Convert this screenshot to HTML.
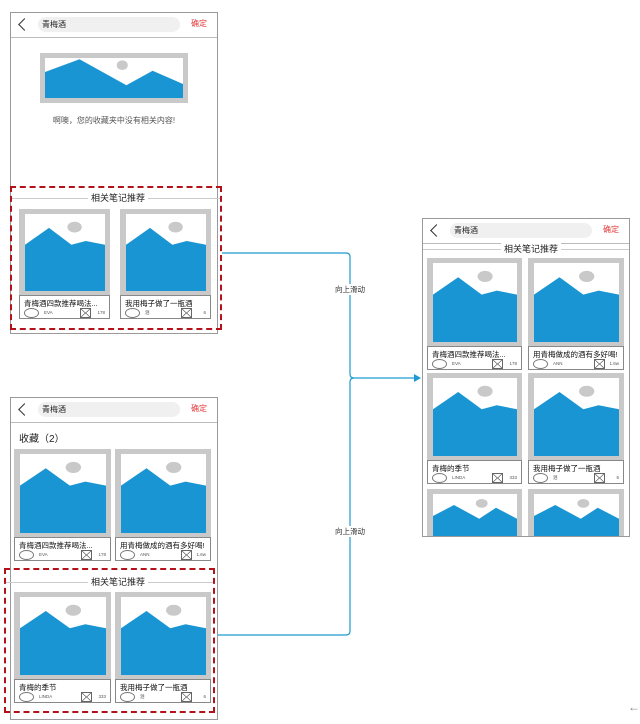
<!DOCTYPE html>
<html><head><meta charset="utf-8"><style>
*{box-sizing:border-box;margin:0;padding:0}
body{width:640px;height:724px;background:#fff;position:relative;overflow:hidden;font-family:"Liberation Sans","Noto Sans CJK SC",sans-serif;color:#222}
.a{position:absolute}
.phone{position:absolute;border:1px solid #9a9a9a;background:#fff}
.hd{position:absolute;left:0;right:0;top:0;height:25px;border-bottom:1px solid #bbb}
.back{position:absolute;left:9px;top:7px;width:9px;height:9px;border-left:1.3px solid #333;border-bottom:1.3px solid #333;transform:rotate(45deg)}
.pill{position:absolute;left:27px;top:4px;width:142px;height:15px;border-radius:8px;background:#f0f0f0;font-size:8px;line-height:15px;padding-left:4px;color:#222}
.ok{position:absolute;right:10px;top:5px;font-size:8px;color:#e23b3b}
.card{position:absolute}
.img{position:absolute;left:0;top:0;right:0;bottom:23px;background:#c9c9c9}
.in{position:absolute;left:6px;top:5px;right:5px;bottom:5px;background:#fff}
.in svg{width:100%;height:100%;display:block}
.ft{position:absolute;left:0;right:0;bottom:0;height:24px;border:1px solid #888;background:#fff}
.t{position:absolute;left:4px;top:2px;font-size:7.5px;white-space:nowrap;color:#111}
.c{position:absolute;left:4px;top:12px;width:15px;height:10px;border:1px solid #777;border-radius:50%}
.n{position:absolute;left:24px;top:14px;font-size:4.5px;color:#555}
.x{position:absolute;right:18px;top:12px;width:11px;height:10px;border:1px solid #666;background:linear-gradient(to top right,transparent 46%,#666 48%,#666 52%,transparent 54%),linear-gradient(to top left,transparent 46%,#666 48%,#666 52%,transparent 54%)}
.m{position:absolute;right:4px;top:14px;font-size:4.5px;color:#555}
.dash{position:absolute;border:2px dashed #b3121b}
.sec{position:absolute;left:0;right:0;height:1px;background:#ccc}
.st{position:absolute;font-size:9px;background:#fff;padding:0 3px;color:#222}
</style></head><body>

<svg class="a" style="left:0;top:0" width="640" height="724">
<path d="M222 253 H346 Q350 253 350 257 V374 Q350 378 354 378 H414" fill="none" stroke="#1e9bd0" stroke-width="1.2"/>
<path d="M215 635 H346 Q350 635 350 631 V382 Q350 378 354 378" fill="none" stroke="#1e9bd0" stroke-width="1.2"/>
<polygon points="414,374 421,378 414,382" fill="#1e9bd0"/>
<rect x="333" y="284" width="34" height="11" fill="#fff"/>
<text x="350" y="292" font-size="7.5" text-anchor="middle" fill="#333" font-family="Liberation Sans,Noto Sans CJK SC,sans-serif">向上滑动</text>
<rect x="333" y="526" width="34" height="11" fill="#fff"/>
<text x="350" y="534" font-size="7.5" text-anchor="middle" fill="#333" font-family="Liberation Sans,Noto Sans CJK SC,sans-serif">向上滑动</text>
<text x="628" y="711" font-size="12" fill="#888">←</text>
</svg>

<!-- Phone 1 -->
<div class="phone" style="left:10px;top:12px;width:208px;height:322px">
 <div class="hd"><div class="back"></div><div class="pill">青梅酒</div><div class="ok">确定</div></div>
 <div class="a" style="left:29px;top:40px;width:148px;height:50px;background:#c9c9c9">
  <div class="a" style="left:5px;top:5px;right:5px;bottom:5px;background:#fff">
   <svg width="138" height="40" viewBox="0 0 100 100" preserveAspectRatio="none"><ellipse cx="56" cy="18" rx="4" ry="12" fill="#c9c9c9"/><polygon points="0,35 25,3 59,68 78,32 100,65 100,100 0,100" fill="#1a95d3"/></svg>
  </div>
 </div>
 <div class="a" style="left:0;right:0;top:102px;text-align:center;font-size:8px;color:#555">啊噢，您的收藏夹中没有相关内容!</div>
</div>
<div class="dash" style="left:10px;top:186px;width:212px;height:144px">
 <div class="sec" style="top:10px"></div><div class="st" style="left:76px;top:3px">相关笔记推荐</div>
</div>
<div class="card" style="left:19px;top:209px;width:91px;height:110px"><div class="img"><div class="in"><svg viewBox="0 0 100 100" preserveAspectRatio="none"><ellipse cx="62" cy="17" rx="9" ry="7" fill="#c9c9c9"/><polygon points="0,40 30,18 58,40 76,35 100,40 100,100 0,100" fill="#1a95d3"/></svg></div></div><div class="ft"><div class="t">青梅酒四款推荐喝法...</div><div class="c"></div><div class="n">EVA</div><div class="x"></div><div class="m">178</div></div></div>
<div class="card" style="left:120px;top:209px;width:91px;height:110px"><div class="img"><div class="in"><svg viewBox="0 0 100 100" preserveAspectRatio="none"><ellipse cx="62" cy="17" rx="9" ry="7" fill="#c9c9c9"/><polygon points="0,40 30,18 58,40 76,35 100,40 100,100 0,100" fill="#1a95d3"/></svg></div></div><div class="ft"><div class="t">我用梅子做了一瓶酒</div><div class="c"></div><div class="n">泪</div><div class="x"></div><div class="m">6</div></div></div>

<!-- Phone 3 -->
<div class="phone" style="left:10px;top:397px;width:208px;height:323px">
 <div class="hd"><div class="back"></div><div class="pill">青梅酒</div><div class="ok">确定</div></div>
 <div class="a" style="left:8px;top:32px;font-size:10px">收藏（2）</div>
</div>
<div class="card" style="left:14px;top:449px;width:97px;height:112px"><div class="img"><div class="in"><svg viewBox="0 0 100 100" preserveAspectRatio="none"><ellipse cx="62" cy="17" rx="9" ry="7" fill="#c9c9c9"/><polygon points="0,40 30,18 58,40 76,35 100,40 100,100 0,100" fill="#1a95d3"/></svg></div></div><div class="ft"><div class="t">青梅酒四款推荐喝法...</div><div class="c"></div><div class="n">EVA</div><div class="x"></div><div class="m">178</div></div></div>
<div class="card" style="left:115px;top:449px;width:96px;height:112px"><div class="img"><div class="in"><svg viewBox="0 0 100 100" preserveAspectRatio="none"><ellipse cx="62" cy="17" rx="9" ry="7" fill="#c9c9c9"/><polygon points="0,40 30,18 58,40 76,35 100,40 100,100 0,100" fill="#1a95d3"/></svg></div></div><div class="ft"><div class="t">用青梅做成的酒有多好喝!</div><div class="c"></div><div class="n">ANN</div><div class="x"></div><div class="m">1.6w</div></div></div>
<div class="dash" style="left:4px;top:568px;width:211px;height:145px">
 <div class="sec" style="top:12px"></div><div class="st" style="left:82px;top:5px">相关笔记推荐</div>
</div>
<div class="card" style="left:14px;top:592px;width:97px;height:111px"><div class="img"><div class="in"><svg viewBox="0 0 100 100" preserveAspectRatio="none"><ellipse cx="62" cy="17" rx="9" ry="7" fill="#c9c9c9"/><polygon points="0,40 30,18 58,40 76,35 100,40 100,100 0,100" fill="#1a95d3"/></svg></div></div><div class="ft"><div class="t">青梅的季节</div><div class="c"></div><div class="n">LINDA</div><div class="x"></div><div class="m">333</div></div></div>
<div class="card" style="left:115px;top:592px;width:96px;height:111px"><div class="img"><div class="in"><svg viewBox="0 0 100 100" preserveAspectRatio="none"><ellipse cx="62" cy="17" rx="9" ry="7" fill="#c9c9c9"/><polygon points="0,40 30,18 58,40 76,35 100,40 100,100 0,100" fill="#1a95d3"/></svg></div></div><div class="ft"><div class="t">我用梅子做了一瓶酒</div><div class="c"></div><div class="n">泪</div><div class="x"></div><div class="m">6</div></div></div>

<!-- Phone 2 -->
<div class="phone" style="left:422px;top:218px;width:208px;height:319px;overflow:hidden">
 <div class="hd"><div class="back"></div><div class="pill">青梅酒</div><div class="ok">确定</div></div>
 <div class="sec" style="top:30px"></div><div class="st" style="left:78px;top:23px">相关笔记推荐</div>
 <div class="card" style="left:4px;top:39px;width:95px;height:112px"><div class="img"><div class="in"><svg viewBox="0 0 100 100" preserveAspectRatio="none"><ellipse cx="62" cy="17" rx="9" ry="7" fill="#c9c9c9"/><polygon points="0,40 30,18 58,40 76,35 100,40 100,100 0,100" fill="#1a95d3"/></svg></div></div><div class="ft"><div class="t">青梅酒四款推荐喝法...</div><div class="c"></div><div class="n">EVA</div><div class="x"></div><div class="m">178</div></div></div>
 <div class="card" style="left:105px;top:39px;width:96px;height:112px"><div class="img"><div class="in"><svg viewBox="0 0 100 100" preserveAspectRatio="none"><ellipse cx="62" cy="17" rx="9" ry="7" fill="#c9c9c9"/><polygon points="0,40 30,18 58,40 76,35 100,40 100,100 0,100" fill="#1a95d3"/></svg></div></div><div class="ft"><div class="t">用青梅做成的酒有多好喝!</div><div class="c"></div><div class="n">ANN</div><div class="x"></div><div class="m">1.6w</div></div></div>
 <div class="card" style="left:4px;top:154px;width:95px;height:111px"><div class="img"><div class="in"><svg viewBox="0 0 100 100" preserveAspectRatio="none"><ellipse cx="62" cy="17" rx="9" ry="7" fill="#c9c9c9"/><polygon points="0,40 30,18 58,40 76,35 100,40 100,100 0,100" fill="#1a95d3"/></svg></div></div><div class="ft"><div class="t">青梅的季节</div><div class="c"></div><div class="n">LINDA</div><div class="x"></div><div class="m">333</div></div></div>
 <div class="card" style="left:105px;top:154px;width:96px;height:111px"><div class="img"><div class="in"><svg viewBox="0 0 100 100" preserveAspectRatio="none"><ellipse cx="62" cy="17" rx="9" ry="7" fill="#c9c9c9"/><polygon points="0,40 30,18 58,40 76,35 100,40 100,100 0,100" fill="#1a95d3"/></svg></div></div><div class="ft"><div class="t">我用梅子做了一瓶酒</div><div class="c"></div><div class="n">泪</div><div class="x"></div><div class="m">6</div></div></div>
 <div class="a" style="left:4px;top:270px;width:95px;height:60px;background:#c9c9c9"><div class="a" style="left:6px;top:5px;right:5px;bottom:0;background:#fff"><svg width="84" height="55" viewBox="0 0 100 100" preserveAspectRatio="none"><ellipse cx="58" cy="17" rx="7" ry="8" fill="#c9c9c9"/><polygon points="0,40 25,20 55,45 75,25 100,45 100,100 0,100" fill="#1a95d3"/></svg></div></div>
 <div class="a" style="left:105px;top:270px;width:96px;height:60px;background:#c9c9c9"><div class="a" style="left:6px;top:5px;right:5px;bottom:0;background:#fff"><svg width="85" height="55" viewBox="0 0 100 100" preserveAspectRatio="none"><ellipse cx="58" cy="17" rx="7" ry="8" fill="#c9c9c9"/><polygon points="0,40 25,20 55,45 75,25 100,45 100,100 0,100" fill="#1a95d3"/></svg></div></div>
</div>
</body></html>
